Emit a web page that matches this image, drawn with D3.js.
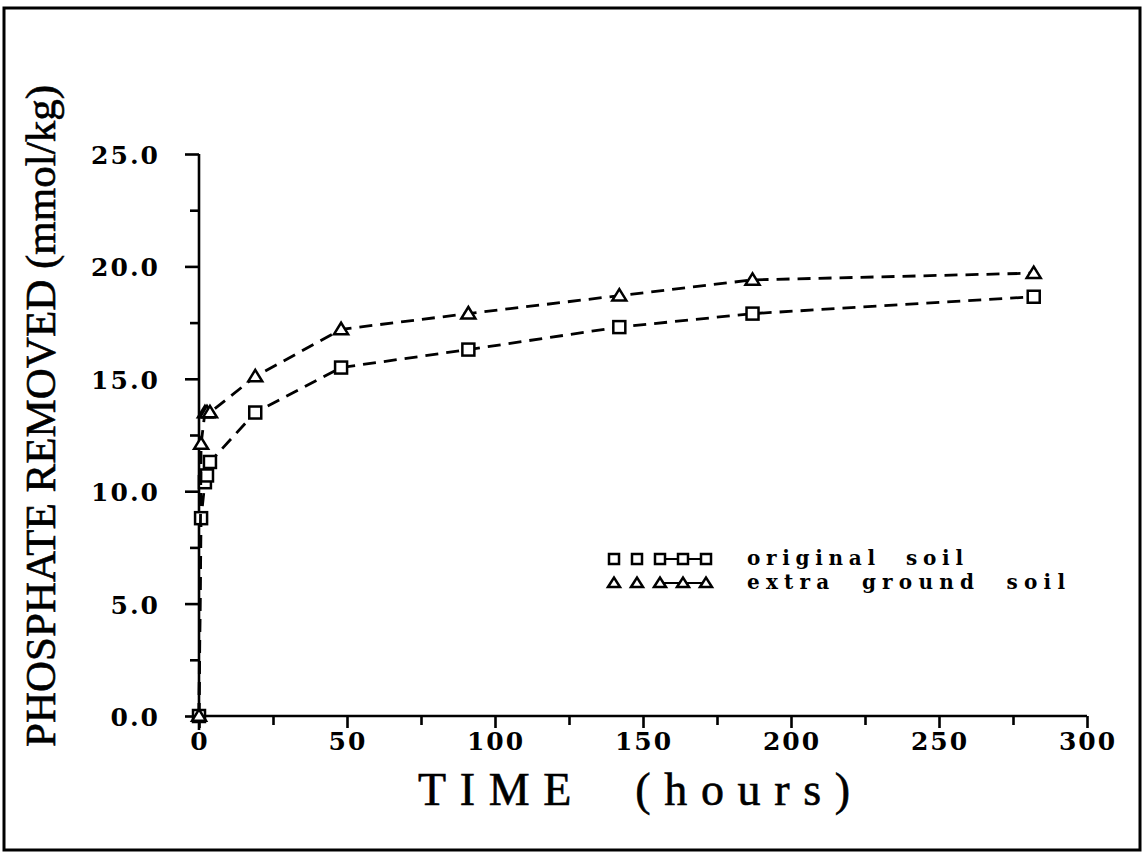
<!DOCTYPE html>
<html>
<head>
<meta charset="utf-8">
<script src="https://cdn.jsdelivr.net/npm/d3@7"></script>
<style>
  body { margin: 0; background: #fff; }
  svg { display: block; }
  .tick-label { font-family: "DejaVu Serif", serif; font-weight: bold; font-size: 25px; letter-spacing: 2px; fill: #000; }
  .title { font-family: "Liberation Serif", "Times New Roman", serif; fill: #000; stroke: #000; stroke-width: 0.6; }
  .legend-text { font-family: "DejaVu Serif", serif; font-weight: bold; font-size: 20px; fill: #000; }
</style>
</head>
<body>
<svg id="chart" width="1143" height="855"></svg>
<script>
"use strict";

// Time (hours) and phosphate removed (mmol/kg)
const timeHours = [0, 0.7, 2, 2.7, 3.7, 19, 48, 91, 142, 187, 282];
const originalSoil = [0, 8.8, 10.4, 10.7, 11.3, 13.5, 15.5, 16.3, 17.3, 17.9, 18.65];
const extraGroundSoil = [0, 12.1, 13.5, 13.5, 13.5, 15.1, 17.2, 17.9, 18.7, 19.4, 19.7];

const xTicks = [0, 50, 100, 150, 200, 250, 300];
const yTicks = [0, 5, 10, 15, 20, 25];
const legendLabels = ["original  soil", "extra  ground  soil"];

const svg = d3.select("#chart");

// outer frame
svg.append("rect")
  .attr("x", 4).attr("y", 8)
  .attr("width", 1136).attr("height", 842)
  .attr("fill", "none")
  .attr("stroke", "#000")
  .attr("stroke-width", 3);

const x = d3.scaleLinear().domain([0, 300]).range([199, 1087]);
const y = d3.scaleLinear().domain([0, 25]).range([716, 154]);

// y axis: major ticks every 5, minor every 2.5, pointing left
const yAxis = svg.append("g")
  .attr("transform", "translate(" + x(0) + ",0)")
  .call(d3.axisLeft(y).tickValues(d3.range(0, 25.1, 2.5))
    .tickSize(9).tickFormat(""));
yAxis.selectAll(".tick line")
  .attr("x2", d => (d % 5 === 0 ? -14 : -9));
yAxis.select(".domain").attr("d", "M0," + y(25) + "V" + (y(0) + 14));

// x axis: major ticks every 50, minor every 25, pointing down
const xAxis = svg.append("g")
  .attr("transform", "translate(0," + y(0) + ")")
  .call(d3.axisBottom(x).tickValues(d3.range(0, 301, 25))
    .tickSize(9).tickFormat(""));
xAxis.selectAll(".tick line")
  .attr("y2", d => (d % 50 === 0 ? 12 : 9));
xAxis.select(".domain").attr("d", "M" + x(0) + ",0H" + x(300));

svg.selectAll(".domain, .tick line")
  .attr("stroke", "#000")
  .attr("stroke-width", 2.6);

svg.selectAll("text.ylab")
  .data(yTicks)
  .enter()
  .append("text")
  .attr("class", "tick-label ylab")
  .attr("x", 160)
  .attr("y", d => y(d) + 10)
  .attr("text-anchor", "end")
  .text(d => d.toFixed(1));

svg.selectAll("text.xlab")
  .data(xTicks)
  .enter()
  .append("text")
  .attr("class", "tick-label xlab")
  .attr("x", d => x(d) + 1)
  .attr("y", 750)
  .attr("text-anchor", "middle")
  .text(d => d);

// axis titles
svg.append("text")
  .attr("class", "title")
  .attr("x", 634).attr("y", 805)
  .attr("text-anchor", "middle")
  .attr("font-size", 46)
  .attr("textLength", 432)
  .attr("lengthAdjust", "spacing")
  .attr("xml:space", "preserve")
  .text("TIME  (hours)");

svg.append("text")
  .attr("class", "title")
  .attr("transform", "translate(55,416) rotate(-90)")
  .attr("text-anchor", "middle")
  .attr("font-size", 43)
  .attr("textLength", 662)
  .attr("lengthAdjust", "spacing")
  .text("PHOSPHATE REMOVED (mmol/kg)");

// markers
let squareMark = (g, cx, cy, s) => {
  g.append("rect")
    .attr("x", cx - s / 2).attr("y", cy - s / 2)
    .attr("width", s).attr("height", s)
    .attr("fill", "#fff")
    .attr("stroke", "#000")
    .attr("stroke-width", 2.5);
};

let triangleMark = (g, cx, cy, s) => {
  let h = s / 2 + 1;
  g.append("path")
    .attr("d", "M" + (cx - h) + "," + (cy + s * 0.4) + "L" + cx + "," + (cy - s * 0.55) + "L" + (cx + h) + "," + (cy + s * 0.4) + "Z")
    .attr("fill", "#fff")
    .attr("stroke", "#000")
    .attr("stroke-width", 2.5);
};

let series = [
  { values: originalSoil, mark: squareMark },
  { values: extraGroundSoil, mark: triangleMark }
];

let line = d3.line()
  .x(d => x(d[0]))
  .y(d => y(d[1]));

series.forEach(s => {
  let pts = timeHours.map((t, i) => [t, s.values[i]]);
  let g = svg.append("g");
  g.append("path")
    .attr("d", line(pts))
    .attr("fill", "none")
    .attr("stroke", "#000")
    .attr("stroke-width", 2.8)
    .attr("stroke-dasharray", "13,8");
  pts.forEach(p => s.mark(g, x(p[0]), y(p[1]), 12));
});

// legend
let legend = svg.append("g");
legendLabels.forEach((label, i) => {
  let ly = 559 + i * 24;
  legend.append("line")
    .attr("x1", 660).attr("x2", 706)
    .attr("y1", ly).attr("y2", ly)
    .attr("stroke", "#000")
    .attr("stroke-width", 2);
  d3.range(5).forEach(k => series[i].mark(legend, 614 + k * 23, ly, 10));
  legend.append("text")
    .attr("class", "legend-text")
    .attr("x", 747)
    .attr("y", ly + 6)
    .attr("textLength", i === 0 ? 216 : 318)
    .attr("lengthAdjust", "spacing")
    .attr("xml:space", "preserve")
    .text(label);
});
</script>
</body>
</html>
